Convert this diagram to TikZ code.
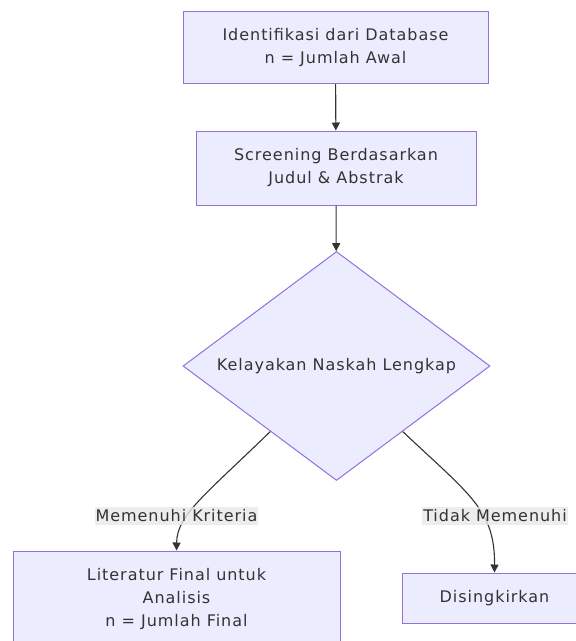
\documentclass[tikz,border=0pt]{standalone}
\usepackage{fontspec}
\setmainfont{DejaVu Sans}[LetterSpace=6]
\usepackage{xcolor}
\usetikzlibrary{shapes.geometric,arrows.meta,calc}
\definecolor{boxfill}{HTML}{ECECFF}
\definecolor{boxline}{HTML}{9370DB}
\definecolor{txt}{HTML}{333333}
\definecolor{lblfill}{HTML}{E8E8E8}

\begin{document}
\begin{tikzpicture}[x=1pt, y=-1pt,
    font=\fontsize{16}{23}\selectfont,
    box/.style={rectangle, fill=boxfill, draw=boxline, line width=1pt,
        text=txt, align=center, inner sep=0pt},
    decision/.style={diamond, fill=boxfill, draw=boxline, line width=1pt,
        text=txt, inner sep=0pt, aspect=1.335},
    edge/.style={draw=txt, line width=1.1pt,
        -{Triangle[width=8pt, length=8pt]}},
    lbl/.style={fill=lblfill, fill opacity=0.8, text opacity=1,
        text=txt, inner xsep=1pt, inner ysep=2.5pt}
]
\useasboundingbox (0,0) rectangle (576,641);

% Boxes
\node[box, minimum width=305pt, minimum height=72pt] (ident) at (335.5,47.5)
    {Identifikasi dari Database\\n = Jumlah Awal};
\node[box, minimum width=280pt, minimum height=74pt] (screen) at (336,168)
    {Screening Berdasarkan\\Judul \& Abstrak};
\node[decision, minimum width=307pt, minimum height=229pt] (cek) at (336.5,366)
    {Kelayakan Naskah Lengkap};
\node[box, minimum width=327pt, minimum height=96pt] (final) at (176.5,599)
    {Literatur Final untuk\\Analisis\\n = Jumlah Final};
\node[box, minimum width=185pt, minimum height=50pt] (buang) at (494.5,598)
    {Disingkirkan};

% Connect
\draw[edge] (ident) -- (screen);
\draw[edge] (screen) -- (cek);
\coordinate (cek-l) at ($(cek.west)!0.57!(cek.south)$);
\coordinate (cek-r) at ($(cek.east)!0.57!(cek.south)$);
\draw[edge] (cek-l) .. controls (205,495) and (177,515) .. (final.north);
\draw[edge] (cek-r) .. controls (470,495) and (495,510) .. (buang.north);

% Labels
\node[lbl] (ya) at (176.5,516) {Memenuhi Kriteria};
\node[lbl] (tidak) at (495,516) {Tidak Memenuhi};

\end{tikzpicture}
\end{document}
